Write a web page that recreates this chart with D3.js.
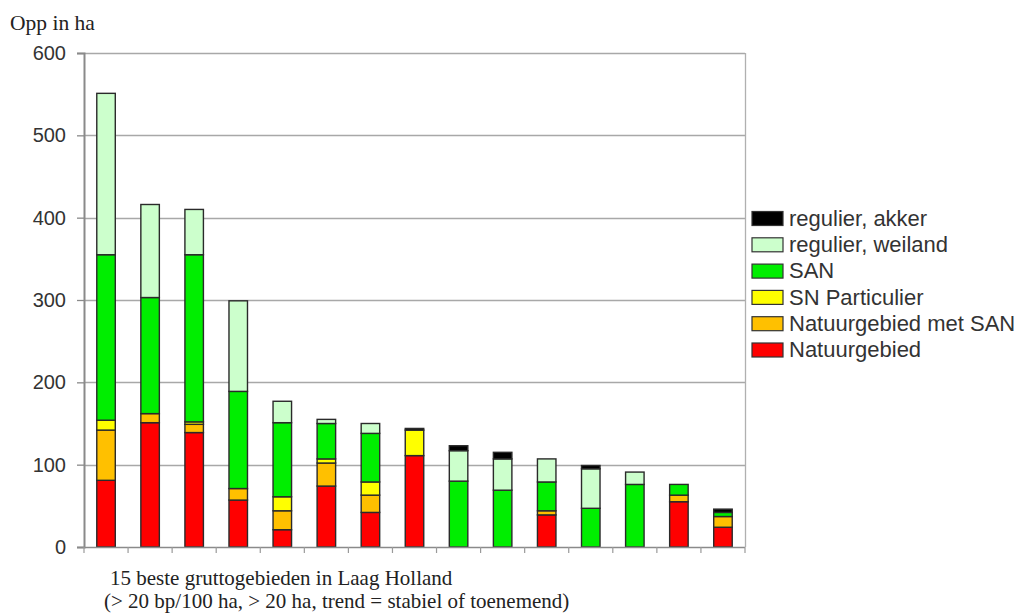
<!DOCTYPE html>
<html>
<head>
<meta charset="utf-8">
<script src="https://cdn.jsdelivr.net/npm/d3@7/dist/d3.min.js"></script>
<style>
  html, body { margin: 0; padding: 0; background: #ffffff; }
  svg { display: block; }
</style>
</head>
<body>
<svg id="chart" width="1016" height="614"></svg>
<script>
// Areas (ha) per grutto area, stacked from bottom to top
const areas = ["1","2","3","4","5","6","7","8","9","10","11","12","13","14","15"];
const natuurgebied       = [81, 151, 139, 57, 21, 74, 42, 111,  0,  0, 39,  0,  0, 55, 24];
const natuurgebiedMetSAN = [61,  11,  10, 14, 23, 28, 21,   0,  0,  0,  5,  0,  0,  8, 13];
const snParticulier      = [12,   0,   3,  0, 17,  5, 16,  31,  0,  0,  0,  0,  0,  0,  0];
const san                = [201, 141, 203, 118, 90, 43, 59,  0, 80, 69, 35, 47, 76, 13,  5];
const regulierWeiland    = [196, 113,  55, 110, 26,  5, 12,  0, 37, 38, 28, 48, 15,  0,  0];
const regulierAkker      = [0,    0,   0,   0,  0,  0,  0,  2,  6,  8,  0,  4,  0,  0,  4];

const seriesNames = ["Natuurgebied", "Natuurgebied met SAN", "SN Particulier", "SAN", "regulier, weiland", "regulier, akker"];
const seriesValues = [natuurgebied, natuurgebiedMetSAN, snParticulier, san, regulierWeiland, regulierAkker];
const seriesColors = ["#ff0000", "#ffc000", "#ffff00", "#00ee00", "#ccffcc", "#000000"];
const yTicks = [0, 100, 200, 300, 400, 500, 600];

const yTitle = "Opp in ha";
const xTitle1 = "15 beste gruttogebieden in Laag Holland";
const xTitle2 = "(> 20 bp/100 ha, > 20 ha, trend = stabiel of toenemend)";

const svg = d3.select("#chart");
const plot = { left: 84, right: 745, top: 53, bottom: 547 };

const x = d3.scaleBand().domain(areas).range([plot.left, plot.right]).paddingInner(0.58).paddingOuter(0.29);
const y = d3.scaleLinear().domain([0, 600]).range([plot.bottom, plot.top]);

// Row table for d3.stack
const rows = areas.map((a, i) => {
  const r = { area: a };
  seriesNames.forEach((n, k) => { r[n] = seriesValues[k][i]; });
  return r;
});
const stacked = d3.stack().keys(seriesNames)(rows);

// Horizontal gridlines
svg.append("g").selectAll("line").data(yTicks.filter(t => t > 0)).join("line")
  .attr("x1", plot.left).attr("x2", plot.right)
  .attr("y1", d => Math.round(y(d)) + 0.5).attr("y2", d => Math.round(y(d)) + 0.5)
  .attr("stroke", "#a8a8a8").attr("stroke-width", 1.3);

// Right border of the plot area
svg.append("line")
  .attr("x1", plot.right + 0.5).attr("x2", plot.right + 0.5)
  .attr("y1", plot.top).attr("y2", plot.bottom)
  .attr("stroke", "#b0b0b0").attr("stroke-width", 1.3);

// Stacked bars
const layers = svg.append("g").selectAll("g").data(stacked).join("g")
  .attr("fill", (d, i) => seriesColors[i]);
layers.selectAll("rect").data(d => d.filter(s => s[1] - s[0] > 0)).join("rect")
  .attr("x", d => x(d.data.area))
  .attr("width", x.bandwidth())
  .attr("y", d => y(d[1]))
  .attr("height", d => y(d[0]) - y(d[1]))
  .attr("stroke", "#2a2a2a").attr("stroke-width", 1.4);

// Y axis
const yAxis = d3.axisLeft(y).tickValues(yTicks).tickSize(7).tickPadding(11);
const yg = svg.append("g").attr("transform", `translate(${plot.left},0)`).call(yAxis);
yg.select(".domain").attr("stroke", "#8a8a8a").attr("stroke-width", 2);
yg.selectAll(".tick line").attr("stroke", "#8a8a8a").attr("stroke-width", 1.3);
yg.selectAll(".tick text")
  .attr("font-family", "'Liberation Sans', Arial, sans-serif")
  .attr("font-size", 20).attr("fill", "#333");

// X axis: baseline with ticks on category boundaries
const boundaries = areas.map(a => x(a) - x.step() * x.paddingInner() / 2).concat([plot.right]);
const xg = svg.append("g");
xg.append("line")
  .attr("x1", plot.left).attr("x2", plot.right)
  .attr("y1", plot.bottom + 0.5).attr("y2", plot.bottom + 0.5)
  .attr("stroke", "#8a8a8a").attr("stroke-width", 1.5);
xg.selectAll("line.tk").data(boundaries).join("line").attr("class", "tk")
  .attr("x1", d => d).attr("x2", d => d)
  .attr("y1", plot.bottom).attr("y2", plot.bottom + 6)
  .attr("stroke", "#9a9a9a").attr("stroke-width", 1.2);

// Titles
svg.append("text").text(yTitle)
  .attr("x", 10).attr("y", 30)
  .attr("font-family", "'Liberation Serif', 'Times New Roman', serif")
  .attr("font-size", 21.5).attr("fill", "#222");
svg.append("text").text(xTitle1)
  .attr("x", 110).attr("y", 585)
  .attr("font-family", "'Liberation Serif', 'Times New Roman', serif")
  .attr("font-size", 21).attr("fill", "#222");
svg.append("text").text(xTitle2)
  .attr("x", 104).attr("y", 608)
  .attr("font-family", "'Liberation Serif', 'Times New Roman', serif")
  .attr("font-size", 21).attr("fill", "#222");

// Legend (top entry is the top of the stack)
const legendOrder = d3.range(seriesNames.length).reverse();
const legend = svg.append("g").selectAll("g").data(legendOrder).join("g")
  .attr("transform", (d, i) => `translate(752, ${218 + i * 26.3})`);
legend.append("rect")
  .attr("x", 0).attr("y", -6.5).attr("width", 31).attr("height", 14)
  .attr("fill", d => seriesColors[d])
  .attr("stroke", "#333").attr("stroke-width", 1.2);
legend.append("text")
  .attr("x", 37).attr("y", 0).attr("dy", "0.35em")
  .attr("font-family", "'Liberation Sans', Arial, sans-serif")
  .attr("font-size", 22).attr("fill", "#333")
  .text(d => seriesNames[d]);
</script>
</body>
</html>
